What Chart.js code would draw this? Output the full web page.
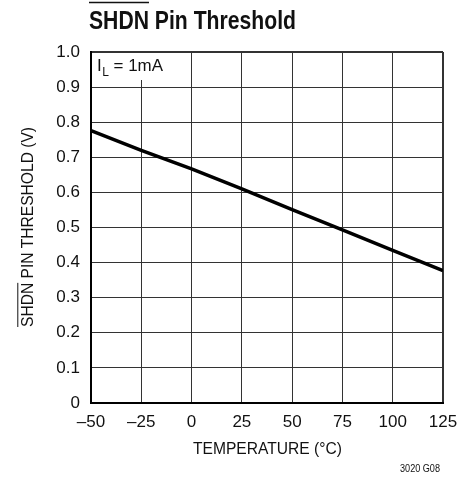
<!DOCTYPE html>
<html lang="en">
<head>
    <meta charset="UTF-8">
    <title>SHDN Pin Threshold</title>
    <script src="https://cdn.jsdelivr.net/npm/chart.js"></script>
    <style>
        html, body {
            margin: 0;
            padding: 0;
            background: #fff;
        }

        #wrap {
            position: relative;
            width: 473px;
            height: 489px;
        }
    </style>
</head>
<body>
    <div id="wrap">
        <canvas id="shdnChart" width="473" height="489"></canvas>
    </div>

    <script>
        // data
        const temperatures = [-50, -25, 0, 25, 50, 75, 100, 125];
        const thresholdVolts = [0.776, 0.72, 0.667, 0.61, 0.551, 0.493, 0.435, 0.377];
        const xTicks = [-50, -25, 0, 25, 50, 75, 100, 125];
        const yTicks = [0, 0.1, 0.2, 0.3, 0.4, 0.5, 0.6, 0.7, 0.8, 0.9, 1.0];

        const chartTitle = 'SHDN Pin Threshold';
        const overlined = 'SHDN';
        const yTitle = 'SHDN PIN THRESHOLD (V)';
        const xTitle = 'TEMPERATURE (°C)';
        const noteMain = 'I';
        const noteSub = 'L';
        const noteRest = ' = 1mA';
        const figId = '3020 G08';

        const FONT = '"Liberation Sans", Arial, sans-serif';

        const points = temperatures.map((t, i) => ({ x: t, y: thresholdVolts[i] }));

        // the original uses a condensed face, so squeeze text to the measured width
        function fitText(ctx, text, x, y, width, font, align) {
            ctx.font = font;
            const m = ctx.measureText(text).width;
            const s = width / m;
            ctx.save();
            ctx.translate(x, y);
            ctx.scale(s, 1);
            ctx.textAlign = 'left';
            let x0 = 0;
            if (align === 'center') x0 = -m / 2;
            if (align === 'right') x0 = -m;
            ctx.fillText(text, x0, 0);
            ctx.restore();
            return s;
        }

        // texts that Chart.js can't overline are drawn here
        const extraText = {
            id: 'extraText',
            afterDraw(chart) {
                const ctx = chart.ctx;
                const area = chart.chartArea;
                ctx.save();
                ctx.fillStyle = '#111';
                ctx.strokeStyle = '#111';
                ctx.textBaseline = 'alphabetic';

                // main title
                let font = 'bold 26px ' + FONT;
                let s = fitText(ctx, chartTitle, 89, 29, 207, font, 'left');
                ctx.font = font;
                let w = ctx.measureText(overlined).width * s;
                ctx.lineWidth = 1.5;
                ctx.beginPath();
                ctx.moveTo(89, 2.5);
                ctx.lineTo(89 + w, 2.5);
                ctx.stroke();

                // y axis title, rotated
                const cy = 227;
                ctx.save();
                ctx.translate(33.3, cy);
                ctx.rotate(-Math.PI / 2);
                font = '17px ' + FONT;
                s = fitText(ctx, yTitle, 0, 0, 200, font, 'center');
                ctx.font = font;
                w = ctx.measureText(overlined).width * s;
                ctx.lineWidth = 1;
                ctx.beginPath();
                ctx.moveTo(-100, -15.5);
                ctx.lineTo(-100 + w, -15.5);
                ctx.stroke();
                ctx.restore();

                // x axis title
                fitText(ctx, xTitle, 267.5, 454, 149, '17px ' + FONT, 'center');

                // note box in upper left
                ctx.fillStyle = '#fff';
                ctx.fillRect(area.left + 1, area.top + 1, 74, 27);
                ctx.fillStyle = '#111';
                let x = 97;
                ctx.font = '17px ' + FONT;
                ctx.textAlign = 'left';
                ctx.fillText(noteMain, x, area.top + 19);
                x += ctx.measureText(noteMain).width + 0.5;
                ctx.font = '12px ' + FONT;
                ctx.fillText(noteSub, x, area.top + 24);
                x += ctx.measureText(noteSub).width;
                fitText(ctx, noteRest, x, area.top + 19, 163 - x, '17px ' + FONT, 'left');

                // figure id
                fitText(ctx, figId, 440, 472, 40, '10px ' + FONT, 'right');
                ctx.restore();
            }
        };

        function edgeWidth(ctx) {
            const v = ctx.tick ? ctx.tick.value : null;
            return (v === 125 || v === 1) ? 2 : 1;
        }

        new Chart(document.getElementById('shdnChart'), {
            type: 'line',
            data: {
                datasets: [{
                    data: points,
                    borderColor: '#000',
                    borderWidth: 3.5,
                    pointRadius: 0,
                    tension: 0,
                    fill: false
                }]
            },
            options: {
                responsive: false,
                animation: false,
                layout: {
                    padding: { top: 52, right: 30, bottom: 0, left: 0 }
                },
                plugins: {
                    legend: { display: false },
                    tooltip: { enabled: false },
                    title: { display: false }
                },
                scales: {
                    x: {
                        type: 'linear',
                        min: -50,
                        max: 125,
                        afterBuildTicks: s => { s.ticks = xTicks.map(v => ({ value: v })); },
                        afterFit: s => { s.height = 86; },
                        ticks: {
                            color: '#111',
                            padding: 9,
                            font: { family: FONT, size: 17 },
                            callback: v => String(v).replace('-', '\u2013')
                        },
                        grid: {
                            color: '#333',
                            lineWidth: edgeWidth,
                            drawTicks: false
                        },
                        border: { display: true, color: '#000', width: 2 }
                    },
                    y: {
                        min: 0,
                        max: 1,
                        afterBuildTicks: s => { s.ticks = yTicks.map(v => ({ value: v })); },
                        afterFit: s => { s.width = 91; },
                        ticks: {
                            color: '#111',
                            padding: 11,
                            font: { family: FONT, size: 17 },
                            callback: v => v === 0 ? '0' : v.toFixed(1)
                        },
                        grid: {
                            color: '#333',
                            lineWidth: edgeWidth,
                            drawTicks: false
                        },
                        border: { display: true, color: '#000', width: 2 }
                    }
                }
            },
            plugins: [extraText]
        });
    </script>
</body>
</html>
